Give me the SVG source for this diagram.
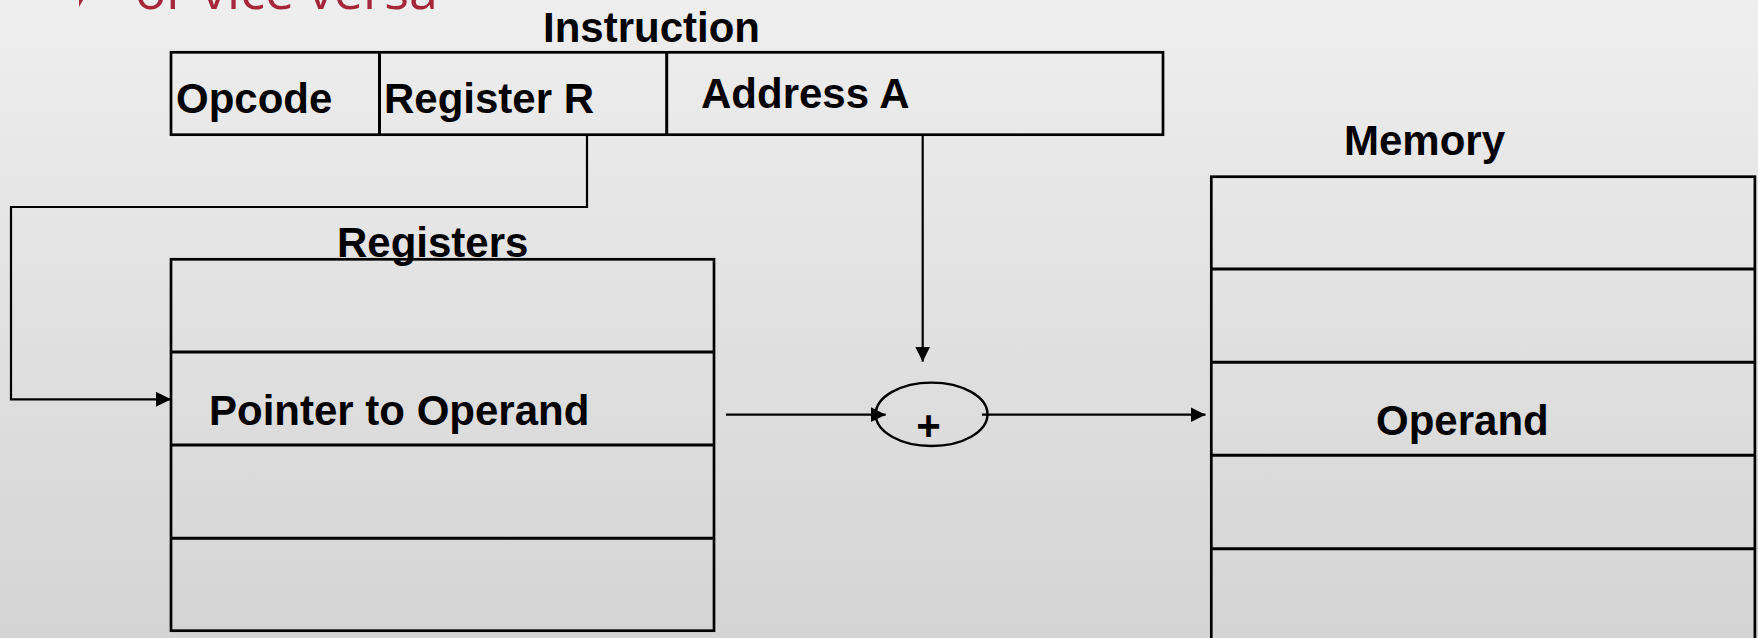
<svg xmlns="http://www.w3.org/2000/svg" width="1758" height="638" viewBox="0 0 1758 638">
  <defs>
    <linearGradient id="bg" x1="0" y1="0" x2="0" y2="1">
      <stop offset="0" stop-color="#eeeeee"/>
      <stop offset="1" stop-color="#d4d4d4"/>
    </linearGradient>
    <marker id="arrow" markerUnits="userSpaceOnUse" markerWidth="16" markerHeight="16" refX="15" refY="7.5" orient="auto">
      <path d="M0,0 L15,7.5 L0,15 Z" fill="#000"/>
    </marker>
    <style>
      .box { fill: none; stroke: #000; stroke-width: 2.7; }
      .div { stroke: #000; stroke-width: 3; }
      .lbl { font-family: "Liberation Sans", Arial, sans-serif; font-weight: bold; font-size: 42px; fill: #000; }
      .conn { fill: none; stroke: #000; stroke-width: 2.2; }
    </style>
  </defs>
  <rect x="0" y="0" width="1758" height="638" fill="url(#bg)"/>

  <g id="bullet-text">
    <polygon points="79,-17 86,-5 79,7" fill="#a4283a"/>
    <text x="135" y="9" font-family="'Open Sans', sans-serif" font-size="52" fill="#a4283a">or vice versa</text>
  </g>

  <g id="instruction">
    <text class="lbl" x="543" y="42">Instruction</text>
    <rect class="box" x="171" y="52.3" width="992" height="82.4"/>
    <line class="div" x1="379.5" y1="52.3" x2="379.5" y2="134.7"/>
    <line class="div" x1="666.7" y1="52.3" x2="666.7" y2="134.7"/>
    <text class="lbl" x="176" y="113">Opcode</text>
    <text class="lbl" x="384" y="113">Register R</text>
    <text class="lbl" x="701" y="108">Address A</text>
  </g>

  <g id="registers">
    <text class="lbl" x="337" y="257">Registers</text>
    <rect class="box" x="171" y="259.3" width="543" height="371.4"/>
    <line class="div" x1="171" y1="352" x2="714" y2="352"/>
    <line class="div" x1="171" y1="445" x2="714" y2="445"/>
    <line class="div" x1="171" y1="538.3" x2="714" y2="538.3"/>
    <text class="lbl" x="209" y="425">Pointer to Operand</text>
  </g>

  <g id="adder">
    <ellipse cx="931.6" cy="414.3" rx="55.9" ry="31.7" fill="none" stroke="#000" stroke-width="2.4"/>
    <text class="lbl" x="928.6" y="440" font-size="40" text-anchor="middle">+</text>
  </g>

  <g id="memory">
    <text class="lbl" x="1344" y="155">Memory</text>
    <rect class="box" x="1211.3" y="176.7" width="543.6" height="480"/>
    <line class="div" x1="1211.3" y1="269" x2="1755" y2="269"/>
    <line class="div" x1="1211.3" y1="362.3" x2="1755" y2="362.3"/>
    <line class="div" x1="1211.3" y1="455.3" x2="1755" y2="455.3"/>
    <line class="div" x1="1211.3" y1="548.7" x2="1755" y2="548.7"/>
    <text class="lbl" x="1376" y="435">Operand</text>
  </g>

  <g id="connectors">
    <path class="conn" d="M587,134.7 V207 H11 V399.3 H171" marker-end="url(#arrow)"/>
    <path class="conn" d="M922.7,134.7 V361.7" marker-end="url(#arrow)"/>
    <path class="conn" d="M726,414.7 H885.7" marker-end="url(#arrow)"/>
    <path class="conn" d="M982,414.7 H1205.5" marker-end="url(#arrow)"/>
  </g>
</svg>
